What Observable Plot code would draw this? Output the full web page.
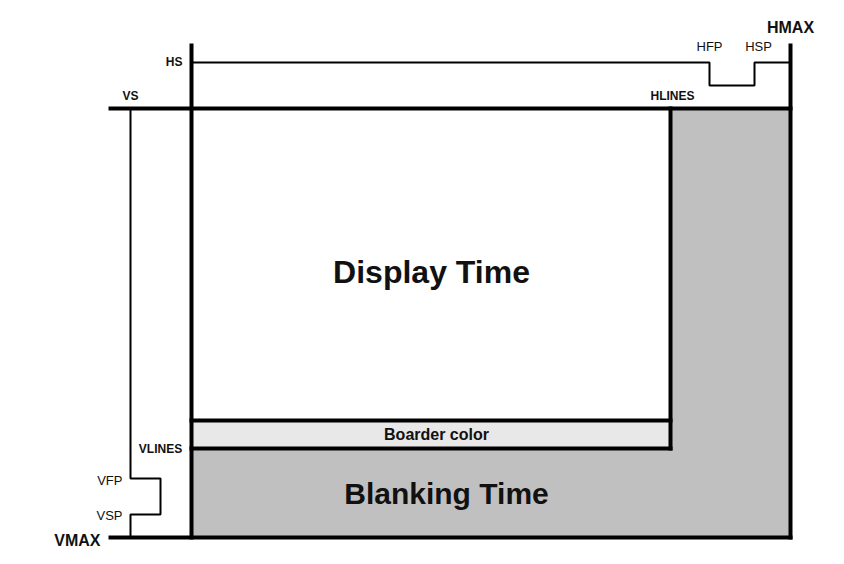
<!DOCTYPE html>
<html><head><meta charset="utf-8">
<script src="https://cdn.jsdelivr.net/npm/d3@7"></script>
<script src="https://cdn.jsdelivr.net/npm/@observablehq/plot@0.6"></script>
<style>body{margin:0;background:#fff}</style>
</head><body><div id="chart"></div>
<script>
// diagram in screen-like units (x right, y down)
const areas = [
  {x1: 670, x2: 790, y1: 108, y2: 537, fill: "#c0c0c0"},
  {x1: 191, x2: 670, y1: 448, y2: 537, fill: "#c0c0c0"},
  {x1: 191, x2: 670, y1: 420, y2: 448, fill: "#e8e8e8"}
];
const thick = [
  [[191, 45], [191, 537]],
  [[790, 45], [790, 537]],
  [[110, 108], [790, 108]],
  [[110, 537], [790, 537]],
  [[670, 108], [670, 448]],
  [[191, 420], [670, 420]],
  [[191, 448], [670, 448]]
];
const thin = [
  [[191, 62], [709, 62], [709, 85], [754, 85], [754, 62], [790, 62]],
  [[130, 108], [130, 478], [160, 478], [160, 514], [130, 514], [130, 537]]
];
const labels = [
  {x: 182, y: 62, t: "HS", a: "end", s: 12, w: "bold"},
  {x: 130, y: 96, t: "VS", a: "middle", s: 12, w: "bold"},
  {x: 672, y: 96, t: "HLINES", a: "middle", s: 12, w: "bold"},
  {x: 709, y: 46, t: "HFP", a: "middle", s: 13, w: "normal"},
  {x: 758, y: 46, t: "HSP", a: "middle", s: 13, w: "normal"},
  {x: 790, y: 27, t: "HMAX", a: "middle", s: 16, w: "bold"},
  {x: 160, y: 449, t: "VLINES", a: "middle", s: 12, w: "bold"},
  {x: 122, y: 480, t: "VFP", a: "end", s: 13, w: "normal"},
  {x: 122, y: 515, t: "VSP", a: "end", s: 13, w: "normal"},
  {x: 100, y: 540, t: "VMAX", a: "end", s: 16, w: "bold"},
  {x: 431, y: 272, t: "Display Time", a: "middle", s: 32, w: "bold"},
  {x: 446, y: 494, t: "Blanking Time", a: "middle", s: 30, w: "bold"},
  {x: 436, y: 434, t: "Boarder color", a: "middle", s: 16, w: "bold"}
];
const seg = (list) => list.flatMap((pts, i) => pts.map(([x, y]) => ({x, y, i})));
const txt = (l) => Plot.text(l, {x: "x", y: "y", text: "t", textAnchor: l[0].a, fontSize: l[0].s, fontWeight: l[0].w, fill: "#111"});
document.getElementById("chart").append(Plot.plot({
  width: 844, height: 564, margin: 0,
  style: {fontFamily: "Liberation Sans, Arial, sans-serif", background: "#fff"},
  x: {domain: [0, 844], range: [0, 844], axis: null},
  y: {domain: [0, 564], range: [0, 564], axis: null},
  marks: [
    Plot.rect(areas, {x1: "x1", x2: "x2", y1: "y1", y2: "y2", fill: "fill"}),
    Plot.line(seg(thin), {x: "x", y: "y", z: "i", stroke: "#000", strokeWidth: 2, strokeLinejoin: "miter"}),
    Plot.line(seg(thick), {x: "x", y: "y", z: "i", stroke: "#000", strokeWidth: 4, strokeLinecap: "square"}),
    ...labels.map(l => txt([l]))
  ]
}));
</script></body></html>
